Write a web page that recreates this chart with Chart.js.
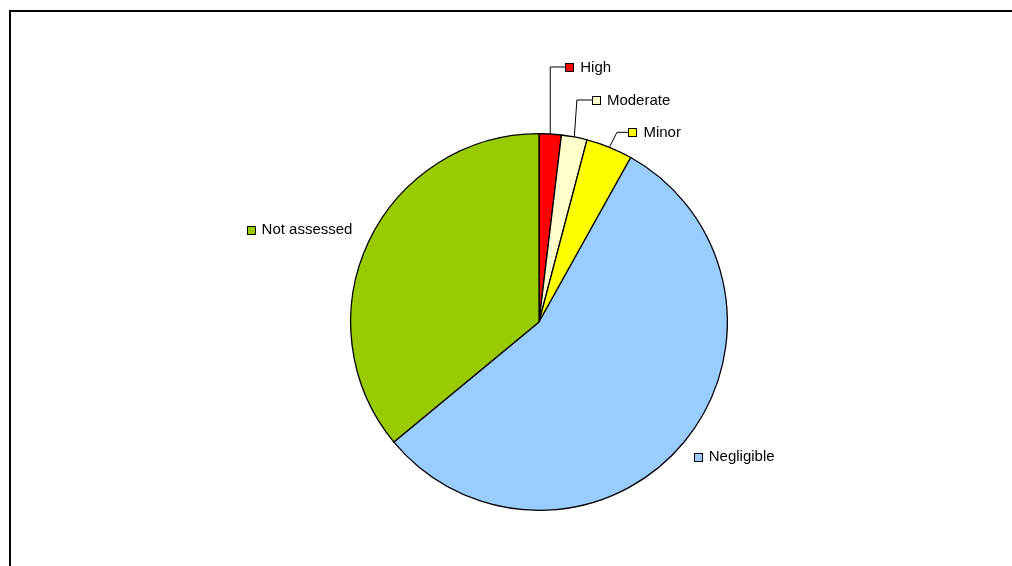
<!DOCTYPE html>
<html>
<head>
<meta charset="utf-8">
<script src="https://cdn.jsdelivr.net/npm/chart.js@4.4.1/dist/chart.umd.min.js"></script>
<style>
  html, body { margin: 0; padding: 0; background: #fff; overflow: hidden; }
  #wrap { width: 1012px; height: 566px; position: relative; }
</style>
</head>
<body>
<div id="wrap"><canvas id="riskPie" width="1012" height="566"></canvas></div>
<script>
// Risk categories and share (%)
var categories = ["High", "Moderate", "Minor", "Negligible", "Not assessed"];
var shares = [1.9, 2.2, 4.0, 55.9, 36.0];
var sliceColors = ["#FF0000", "#FFFFCC", "#FFFF00", "#99CCFF", "#99CC00"];

// label placement relative to the slice edge: [elbowDx, elbowDy, keyDx, keyDy, leader?]
var labelPlace = [
    [0, -67, 15, 0, true],
    [2.6, -37, 15, 0, true],
    [7.5, -15, 11.5, 0, true],
    [10, 14, 0, 0, false],
    [-122, -12, 0, 0, false]
];

var frameAndLabels = {
    id: 'frameAndLabels',
    afterDraw: function(chart) {
        var ctx = chart.ctx;
        ctx.save();
        // outer chart frame (cut off at right and bottom)
        ctx.strokeStyle = "#000";
        ctx.lineWidth = 2;
        ctx.beginPath();
        ctx.moveTo(10, 566);
        ctx.lineTo(10, 11);
        ctx.lineTo(1012, 11);
        ctx.stroke();

        var meta = chart.getDatasetMeta(0);
        ctx.font = "15px 'Liberation Sans', Arial, sans-serif";
        ctx.textBaseline = "middle";
        ctx.textAlign = "left";
        meta.data.forEach(function(arc, i) {
            var p = arc.getProps(['x', 'y', 'startAngle', 'endAngle', 'outerRadius'], true);
            var mid = (p.startAngle + p.endAngle) / 2;
            var ax = p.x + Math.cos(mid) * p.outerRadius;
            var ay = p.y + Math.sin(mid) * p.outerRadius;
            var pl = labelPlace[i];
            var ex = ax + pl[0], ey = ay + pl[1];
            var kx = ex + pl[2], ky = ey + pl[3];
            if (pl[4]) {
                ctx.strokeStyle = "#000";
                ctx.lineWidth = 1;
                ctx.beginPath();
                ctx.moveTo(ax, ay);
                ctx.lineTo(ex, ey);
                ctx.lineTo(kx, ky);
                ctx.stroke();
            }
            // legend key square
            var sx = Math.round(kx) + 0.5, sy = Math.round(ky) - 3.5;
            ctx.fillStyle = sliceColors[i];
            ctx.fillRect(sx, sy, 8, 8);
            ctx.strokeStyle = "#000";
            ctx.lineWidth = 1;
            ctx.strokeRect(sx, sy, 8, 8);
            ctx.fillStyle = "#000";
            ctx.fillText(categories[i], kx + 15, ky + 0.5);
        });
        ctx.restore();
    }
};

var ctxPie = document.getElementById("riskPie");
var riskChart = new Chart(ctxPie, {
    type: 'pie',
    data: {
        labels: categories,
        datasets: [{
            data: shares,
            backgroundColor: sliceColors,
            borderColor: "#000",
            borderWidth: 1.3
        }]
    },
    options: {
        responsive: false,
        animation: false,
        layout: {
            padding: { left: 350, right: 284, top: 133, bottom: 55 }
        },
        plugins: {
            legend: { display: false },
            tooltip: { enabled: false }
        }
    },
    plugins: [frameAndLabels]
});
</script>
</body>
</html>
